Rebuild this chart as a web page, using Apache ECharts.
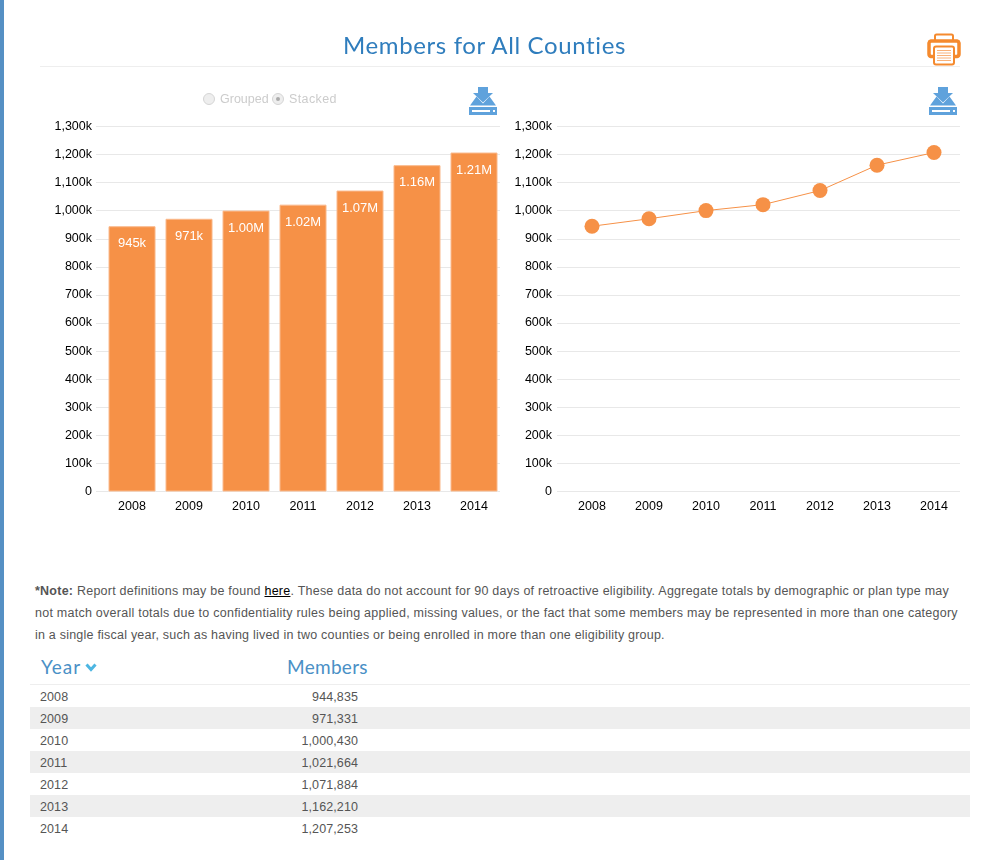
<!DOCTYPE html>
<html><head><meta charset="utf-8">
<script src="https://cdn.jsdelivr.net/npm/echarts@6/dist/echarts.min.js"></script>
<style>
html,body{margin:0;padding:0;background:#fff;width:988px;height:860px;overflow:hidden;font-family:"Liberation Sans",Arial,sans-serif}
.abs{position:absolute}
#bar{left:0;top:0;width:4px;height:860px;background:#5590c4}
#chart{left:0;top:0;width:988px;height:540px}
#title{left:0;width:969px;top:30px;text-align:center;font:24px/30px Lato,sans-serif;color:#2f7dbd;letter-spacing:.63px}
.rule{height:1px;background:#eee}
.radio{width:10px;height:10px;border:1px solid #d4d4d4;border-radius:50%;background:#eee;top:93px}
.radio i{position:absolute;left:3px;top:3px;width:4px;height:4px;border-radius:50%;background:#aaa}
.rl{top:92px;font-size:12.5px;line-height:15px;color:#ccc}
.note{left:35px;font-size:12.5px;line-height:22px;color:#555;white-space:nowrap}
.note a{color:#000;text-decoration:underline}
.th{font:19px/24px Lato,sans-serif;color:#4a90c6;top:655px}
#rows{left:30px;top:685px;width:940px}
.row{height:22px;position:relative;font-size:12.5px;line-height:22px;color:#555;letter-spacing:.1px}
.row:nth-child(even){background:#eee}
.row span{position:absolute;top:.5px}
.row .y{left:10px}
.row .v{right:612px}
</style></head><body>
<div id="bar" class="abs"></div>
<div id="chart" class="abs"></div>
<div id="title" class="abs">Members for All Counties</div>
<div class="abs rule" style="left:40px;top:66px;width:920px"></div>
<svg class="abs" style="left:927px;top:33px" width="34" height="33" viewBox="0 0 34 33">
 <path d="M8 8V3a1.500 1.500 0 0 1 1.500-1.500h15A1.500 1.500 0 0 1 26 3v5" fill="none" stroke="#f58a2e" stroke-width="2"/>
 <path d="M6 23.500H4A2.500 2.500 0 0 1 2 21V10A2.500 2.500 0 0 1 4 8h26a2.500 2.500 0 0 1 2 2v11a2.500 2.500 0 0 1-2 2.500h-2" fill="none" stroke="#f58a2e" stroke-width="3.500"/>
 <rect x="7" y="13.500" width="20" height="18" rx="2" fill="#fff" stroke="#f58a2e" stroke-width="2"/>
 <path d="M10 17.500h14M10 20h14M10 22.500h14M10 25h14M10 27.500h14" stroke="#f9b27a" stroke-width="1"/>
</svg>
<svg class="abs" style="left:469px;top:87px" width="28" height="28" viewBox="0 0 28 28"><use href="#dl"/></svg>
<svg class="abs" style="left:929px;top:87px" width="28" height="28" viewBox="0 0 28 28">
 <g id="dl" fill="#5fa2dc">
  <path d="M9 0h10v6h5l-10 9.500L4 6h5z"/>
  <path d="M7.500 9.500l6.500 7 6.500-7L27 18.500H1z"/>
  <path fill-rule="evenodd" d="M0 20h28v8H0zM3 23v2h18v-2zM24 23v2h2v-2z"/>
 </g>
</svg>
<div class="abs radio" style="left:203px"></div><div class="abs rl" style="left:220px">Grouped</div>
<div class="abs radio" style="left:272px"><i></i></div><div class="abs rl" style="left:289px;letter-spacing:.4px">Stacked</div>
<div class="abs note" style="top:580px;letter-spacing:.236px"><b>*Note:</b> Report definitions may be found <a>here</a>. These data do not account for 90 days of retroactive eligibility. Aggregate totals by demographic or plan type may</div>
<div class="abs note" style="top:602px;letter-spacing:.25px">not match overall totals due to confidentiality rules being applied, missing values, or the fact that some members may be represented in more than one category</div>
<div class="abs note" style="top:624px;letter-spacing:.22px">in a single fiscal year, such as having lived in two counties or being enrolled in more than one eligibility group.</div>
<div class="abs th" style="left:41px;letter-spacing:1px">Year</div>
<svg class="abs" style="left:85px;top:663px" width="12" height="9" viewBox="0 0 12 9"><path d="M1.500 1.500L6 6.500l4.500-5" fill="none" stroke="#4db6e2" stroke-width="3"/></svg>
<div class="abs th" style="left:287px;letter-spacing:.3px">Members</div>
<div class="abs rule" style="left:30px;top:684px;width:940px"></div>
<div id="rows" class="abs"></div>
<script>
const years = [2008, 2009, 2010, 2011, 2012, 2013, 2014];
const members = [944835, 971331, 1000430, 1021664, 1071884, 1162210, 1207253];
const yTickMax = 1300000;
const yTickStep = 100000;
const orange = '#f69147';

const fmtNum = v => v.toLocaleString('en-US');
const fmtShort = v => v < 1e6 ? Math.round(v / 1000) + 'k' : (v / 1e6).toFixed(2) + 'M';
const points = years.map((y, i) => [y, members[i]]);

document.getElementById('rows').innerHTML = years.map((y, i) =>
  '<div class="row"><span class="y">' + y + '</span><span class="v">' + fmtNum(members[i]) + '</span></div>').join('');

const yAxis = (idx, margin) => ({
  type: 'value', gridIndex: idx, min: 0, max: yTickMax, interval: yTickStep,
  axisLine: {show: false}, axisTick: {show: false},
  splitLine: {lineStyle: {color: '#e8e8e8', width: 1}},
  axisLabel: {margin, color: '#000', fontSize: 12.5, fontFamily: 'Liberation Sans', padding: [2, 0, 0, 0],
    formatter: v => v === 0 ? '0' : fmtNum(v / 1000) + 'k'}
});
const xAxis = (idx, min, max) => ({
  type: 'value', gridIndex: idx, min, max,
  axisLine: {show: false}, axisTick: {show: false}, splitLine: {show: false},
  axisLabel: {customValues: years, margin: 9, color: '#000', fontSize: 12.5, fontFamily: 'Liberation Sans',
    formatter: v => String(v)}
});

const chart = echarts.init(document.getElementById('chart'), null, {renderer: 'canvas'});
chart.setOption({
  animation: false,
  backgroundColor: 'transparent',
  grid: [
    {left: 96, width: 404, top: 126.5, height: 365},
    {left: 557, width: 403, top: 126.5, height: 365}
  ],
  xAxis: [xAxis(0, 2007.368, 2014.456), xAxis(1, 2007.386, 2014.456)],
  yAxis: [yAxis(0, 4), yAxis(1, 5)],
  series: [
    {type: 'bar', xAxisIndex: 0, yAxisIndex: 0, data: points, barWidth: 47,
     itemStyle: {color: orange, borderColor: '#fab98c', borderWidth: 1},
     label: {show: true, position: 'insideTop', distance: 11, color: '#fff', fontSize: 13,
       fontFamily: 'Liberation Sans', formatter: p => fmtShort(p.value[1])}},
    {type: 'line', xAxisIndex: 1, yAxisIndex: 1, data: points, symbol: 'circle', symbolSize: 15,
     lineStyle: {color: orange, width: 1},
     itemStyle: {color: orange, borderWidth: 0}}
  ]
});
</script>
</body></html>
